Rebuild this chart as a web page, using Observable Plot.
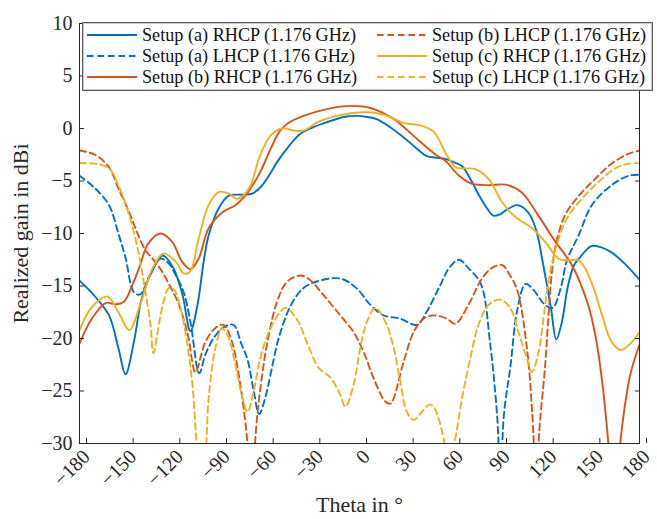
<!DOCTYPE html>
<html><head><meta charset="utf-8">
<script src="https://cdn.jsdelivr.net/npm/d3@7"></script>
<script src="https://cdn.jsdelivr.net/npm/@observablehq/plot@0.6"></script>
<style>
body{margin:0;background:#fff}
#wrap{position:relative;width:657px;height:519px;font-family:"Liberation Serif",serif}
#legend{position:absolute;left:82px;top:22px}
</style></head><body><div id="wrap"></div>
<script>
const xTicks = [-180,-150,-120,-90,-60,-30,0,30,60,90,120,150,180];
const yTicks = [-30,-25,-20,-15,-10,-5,0,5,10];
const seriesNames = ["Setup (a) RHCP (1.176 GHz)","Setup (a) LHCP (1.176 GHz)","Setup (b) RHCP (1.176 GHz)","Setup (b) LHCP (1.176 GHz)","Setup (c) RHCP (1.176 GHz)","Setup (c) LHCP (1.176 GHz)"];
const seriesColors = ["#0072BD","#0072BD","#D95319","#D95319","#EDB120","#EDB120"];
const seriesDashed = [false,true,false,true,false,true];

const aRhcpTheta = [-180,-170,-161,-155,-150.4,-145,-140,-133,-126.5,-120,-114,-108.7,-104.4,-100,-97,-90.5,-84,-75,-69,-63,-57,-53,-45,-38,-30,-21,-10,-2,5,11,20,28,36,43,50,55,62,66,72,77,82,86,90,94,101,105,109,112,115,117.5,120,123,126.5,130,134,138,141,149,155,162,170,180];
const aRhcpGain = [-14.5,-16,-17.8,-20.9,-23.4,-20.3,-16.2,-13.5,-12.1,-13.2,-15.7,-19.3,-17,-12.5,-10.2,-7.6,-6.4,-6.3,-6.2,-5.5,-4.2,-3.2,-1.6,-0.5,0.1,0.6,1.1,1.2,1.1,0.9,0.1,-0.8,-1.8,-2.6,-2.8,-2.9,-3.3,-3.6,-5,-6.4,-7.6,-8.3,-8.2,-7.8,-7.3,-7.5,-8.1,-9,-10.5,-12.5,-14.5,-17,-20.1,-18.5,-15,-13,-12.4,-11.2,-11.3,-11.8,-12.8,-14.4];

const aLhcpTheta = [-180,-170,-161,-155,-150.4,-145,-141,-135,-128,-123,-118,-113,-108.7,-103,-99,-93,-87,-81,-76,-72,-68,-64.5,-60,-57.3,-52,-44,-36,-27,-12,-2,7,15.5,26,37,43,52,58,64,70,78,84,88.5,90.5,93,97,101.4,106.8,112,118.6,124,129,133.5,140.8,149.4,162,173,180];
const aLhcpGain = [-4.5,-5.7,-7.3,-10,-12.3,-15.6,-15.8,-14,-12.4,-12.8,-14,-15.6,-18.4,-23.3,-21.5,-19.8,-18.9,-18.7,-20.5,-22,-25,-27.2,-25.3,-23.5,-20,-16.8,-15.2,-14.55,-14.3,-15.2,-16.8,-17.8,-18.1,-18.7,-17.5,-14.9,-13.2,-12.5,-13.3,-14.8,-20.5,-27.4,-33,-27,-22.7,-17.3,-14.8,-15.4,-16.7,-17.1,-15.4,-12.5,-10.2,-7.3,-5.4,-4.5,-4.4];

const bRhcpTheta = [-180,-172,-163,-157,-151.5,-146,-141,-136,-128,-120.4,-114,-108.7,-103.4,-97,-88.3,-79.8,-73.4,-64,-57,-51,-46,-36,-21,-5,7,22,37,50,55,64,72,83,94,104,115,126,136.5,147,152,156,160,163.8,167.6,174,180];
const bRhcpGain = [-20.5,-18.1,-16.6,-16.75,-16.5,-14.9,-13.0,-11.0,-10,-10.8,-12.7,-13.4,-12.4,-9.5,-8,-7.3,-6.4,-4.2,-1.9,-0.2,0.5,1.2,1.85,2.15,1.95,0.9,-1.0,-2.6,-3.05,-4.5,-5.25,-5.4,-5.35,-6.05,-8.3,-10.8,-13,-16.8,-20,-24.1,-30,-38,-30,-23.5,-20.6];

const bLhcpTheta = [-180,-170,-161,-155,-148,-143,-137.6,-133,-127,-121.5,-116,-112,-109.8,-105.5,-99,-92.6,-87.3,-82,-77.6,-73.4,-69.6,-65.5,-62.6,-59.4,-53,-46.6,-38,-31.6,-23,-12.3,-3.8,2.7,9.1,16.6,20,22,28.4,34.8,41.2,47.6,56,61.6,70,78.7,85,91.7,96,101.4,107.8,111,113.5,116,119.4,121.5,123.7,126,132,141,151.5,162,173,180];
const bLhcpGain = [-2.1,-2.5,-3.7,-5.7,-8,-9.9,-11.6,-12.4,-13.6,-15.1,-16.8,-18.7,-20,-23.2,-20.3,-19,-18.7,-20.3,-23.5,-27.9,-33,-27,-23.5,-20.5,-16.5,-14.6,-14,-14.45,-15.9,-17.8,-19.4,-21.3,-23.8,-26,-26.2,-25.7,-22.2,-19.4,-18.1,-17.8,-18.1,-18.6,-16.8,-14.3,-13.3,-13,-13.8,-15.4,-21.1,-27,-33,-28,-22.5,-17.8,-13.65,-11.2,-8.3,-6.4,-4.8,-3.35,-2.4,-2.1];

const cRhcpTheta = [-180,-172,-162,-155,-148,-141,-133,-126,-118,-113,-109,-103.4,-97,-90.5,-84,-78.7,-71,-64,-57.3,-50,-42,-36,-27,-14,5,18,28,39,47.6,56,62,68,74,83,91.6,100,111,119.4,128,134.4,140.8,145,150,156,162,168,174,180];
const cRhcpGain = [-19.2,-17,-16,-17.5,-19.2,-16.8,-13.3,-11.9,-12.7,-13.8,-13.65,-10.5,-7.3,-6.05,-6.2,-6.7,-5.7,-2.6,-0.7,0.0,-0.2,-0.2,0.6,1.23,1.55,1.2,0.54,0.3,-0.3,-2.5,-3.7,-3.8,-3.85,-4.8,-7,-8.4,-9.5,-10.8,-12.4,-12.55,-12.55,-13.3,-15,-17.8,-20.3,-21.1,-20.5,-19.4];

const cLhcpTheta = [-180,-170,-161,-155,-148,-144,-140.8,-137.6,-134.4,-132.5,-129,-126.9,-122.6,-119,-115.1,-111.9,-107.6,-104,-101.5,-99,-97,-92.6,-88.3,-84,-79.8,-75.5,-72,-68,-64,-59.4,-53,-47.7,-40.1,-33.7,-26.2,-18.7,-12.3,-9.1,-3.8,0.5,4.8,10.2,16.6,22,26.2,30.5,34.8,41.2,45,47.6,50.8,54,57.5,61,65.9,71.2,76.5,83,90.5,96.9,102.2,107.6,110.8,115.1,119.4,122.6,128,134.4,143,153.6,164.4,173,180];
const cLhcpGain = [-3.3,-3.35,-3.8,-5.4,-8.3,-10.5,-12.8,-15.6,-18.6,-21.4,-18.7,-17.1,-15.2,-15.4,-17.1,-19.4,-24.1,-31,-33,-31,-25.7,-20.9,-19,-20,-22.5,-25.5,-27,-25,-22,-19.8,-17.9,-17.1,-18.2,-20.4,-22.8,-23.7,-25.4,-26.5,-24.4,-20.9,-18.4,-17.1,-18.4,-20.9,-24.1,-27,-27.75,-26.8,-26.3,-26.5,-27.6,-29.5,-32,-30,-25.7,-21.9,-18.7,-16.8,-16.3,-17.1,-19.4,-21.9,-23.2,-21.3,-16.8,-13.65,-10.5,-8.3,-6.7,-5.1,-3.8,-3.35,-3.3];

const thetas = [aRhcpTheta,aLhcpTheta,bRhcpTheta,bLhcpTheta,cRhcpTheta,cLhcpTheta];
const gains = [aRhcpGain,aLhcpGain,bRhcpGain,bLhcpGain,cRhcpGain,cLhcpGain];

const axisColor = "#262626";
const fontFamily = '"Liberation Serif", serif';
const fmt = d => d < 0 ? "\u2212" + Math.abs(d) : String(d);

const lineMarks = thetas.map((th, i) => Plot.line(
  th.map((t, j) => ({theta: t, gain: gains[i][j]})),
  {x: "theta", y: "gain", stroke: seriesColors[i], strokeWidth: 1.9,
   strokeDasharray: seriesDashed[i] ? "6.5,4" : null, curve: "catmull-rom", clip: true}
));

const chart = Plot.plot({
  width: 657, height: 519,
  marginLeft: 79, marginRight: 18, marginTop: 23, marginBottom: 76,
  style: {fontFamily, fontSize: "20px", color: axisColor, background: "#fff"},
  x: {domain: [-180, 180]},
  y: {domain: [-30, 10]},
  marks: [
    ...lineMarks,
    Plot.frame({stroke: axisColor, strokeWidth: 1}),
    Plot.axisX(xTicks, {anchor: "bottom", tickSize: -5, tickPadding: 15, tickRotate: -45, dx: 7,
      tickFormat: fmt, fontSize: 20, label: null, stroke: axisColor, fill: axisColor}),
    Plot.axisX({anchor: "bottom", ticks: [], tickSize: 0,
      label: "Theta in \u00b0", labelAnchor: "center", labelOffset: 68, labelArrow: "none", fontSize: 22, fill: axisColor}),
    Plot.axisX(xTicks, {anchor: "top", tickSize: -5, tickFormat: () => "", label: null, stroke: axisColor}),
    Plot.axisY(yTicks, {anchor: "left", tickSize: -5, tickPadding: 12,
      tickFormat: fmt, fontSize: 20, label: null, stroke: axisColor, fill: axisColor}),
    Plot.axisY({anchor: "left", ticks: [], tickSize: 0,
      label: "Realized gain in dBi", labelAnchor: "center", labelOffset: 67, labelArrow: "none", fontSize: 22, fill: axisColor}),
    Plot.axisY(yTicks, {anchor: "right", tickSize: -5, tickFormat: () => "", label: null, stroke: axisColor})
  ]
});
const wrap = document.getElementById("wrap");
wrap.appendChild(chart);

// legend
const legendW = 571, legendH = 69;
const rowY = [13, 34, 55];
const colLineX = [5, 295];
const colTextX = [60, 350];
const lg = d3.select(wrap).append("svg").attr("id", "legend")
  .attr("width", legendW).attr("height", legendH);
lg.append("rect").attr("x", 0.5).attr("y", 0.5).attr("width", legendW - 1).attr("height", legendH - 1)
  .attr("fill", "#fff").attr("stroke", "#5a5a5a").attr("stroke-width", 1);
lg.append("rect").attr("x", 1.5).attr("y", 1.5).attr("width", legendW - 3).attr("height", legendH - 3)
  .attr("fill", "none").attr("stroke", "#c8c8c8").attr("stroke-width", 1);
seriesNames.forEach((name, i) => {
  const col = Math.floor(i / 3), row = i % 3;
  lg.append("line").attr("x1", colLineX[col]).attr("x2", colLineX[col] + 50)
    .attr("y1", rowY[row]).attr("y2", rowY[row])
    .attr("stroke", seriesColors[i]).attr("stroke-width", 1.9)
    .attr("stroke-dasharray", seriesDashed[i] ? "6.5,4" : null);
  lg.append("text").attr("x", colTextX[col]).attr("y", rowY[row]).attr("dy", "0.35em")
    .attr("font-family", fontFamily).attr("font-size", 18.2).attr("fill", "#111")
    .text(name);
});
</script></body></html>
